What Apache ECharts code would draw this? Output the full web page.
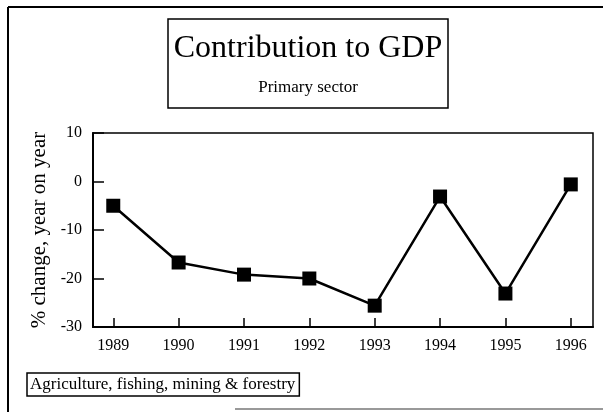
<!DOCTYPE html>
<html>
<head>
<meta charset="utf-8">
<script src="https://cdn.jsdelivr.net/npm/echarts@6/dist/echarts.min.js"></script>
<style>
html,body{margin:0;padding:0;background:#fff;}
#chart{width:603px;height:412px;}
</style>
</head>
<body>
<div id="chart"></div>
<script>
var years = [1989, 1990, 1991, 1992, 1993, 1994, 1995, 1996];
var primarySector = [-5.0, -16.7, -19.2, -20.0, -25.6, -3.1, -23.1, -0.6];
var yTicks = [10, 0, -10, -20, -30];
var seriesName = 'Agriculture, fishing, mining & forestry';

var chart = echarts.init(document.getElementById('chart'), null, {renderer: 'canvas'});
var serif = '"Liberation Serif", "DejaVu Serif", serif';
var option = {
  backgroundColor: '#fff',
  animation: false,
  title: {
    text: 'Contribution to GDP',
    subtext: 'Primary sector',
    left: 302,
    top: 19,
    textAlign: 'center',
    borderColor: '#000',
    borderWidth: 1.5,
    padding: [14, 6, 12, 6],
    itemGap: 14,
    textStyle: {fontFamily: serif, fontSize: 32, fontWeight: 'normal', color: '#000'},
    subtextStyle: {fontFamily: serif, fontSize: 17, color: '#000'}
  },
  legend: {
    left: 27,
    top: 373,
    data: [{name: seriesName, icon: 'rect', itemStyle: {opacity: 0}}],
    itemWidth: 0,
    itemHeight: 0,
    borderColor: '#000',
    borderWidth: 1.5,
    padding: [3, 4, 3, -2],
    textStyle: {fontFamily: serif, fontSize: 17, color: '#000'}
  },
  grid: {
    left: 93, right: 10, top: 133, bottom: 85,
    show: true, borderColor: '#000', borderWidth: 1.5, backgroundColor: 'transparent'
  },
  xAxis: {
    type: 'value',
    position: 'bottom',
    min: 1988.69,
    max: 1996.34,
    splitLine: {show: false},
    axisLine: {show: true, onZero: false, lineStyle: {color: '#000', width: 2}},
    axisTick: {show: true, inside: true, length: 9, lineStyle: {color: '#000', width: 1.5}, customValues: years},
    axisLabel: {color: '#000', fontFamily: serif, fontSize: 16, margin: 11, customValues: years,
      formatter: function (v) { return String(v); }}
  },
  yAxis: {
    type: 'value',
    position: 'left',
    min: -30, max: 10, interval: 10,
    name: '% change, year on year',
    nameLocation: 'middle',
    nameGap: 43,
    nameRotate: 90,
    nameTextStyle: {fontFamily: serif, fontSize: 21, color: '#000'},
    splitLine: {show: false},
    axisLine: {show: true, onZero: false, lineStyle: {color: '#000', width: 2}},
    axisTick: {show: true, inside: true, length: 11, lineStyle: {color: '#000', width: 1.5}},
    axisLabel: {color: '#000', fontFamily: serif, fontSize: 16, margin: 11}
  },
  series: [{
    name: seriesName,
    type: 'line',
    data: years.map(function (y, i) { return [y, primarySector[i]]; }),
    symbol: 'rect',
    symbolSize: 14,
    itemStyle: {color: '#000'},
    lineStyle: {color: '#000', width: 2.5}
  }],
  graphic: [
    {type: 'line', shape: {x1: 8, y1: 7, x2: 603, y2: 7}, style: {stroke: '#000', lineWidth: 2}},
    {type: 'line', shape: {x1: 8, y1: 7, x2: 8, y2: 412}, style: {stroke: '#000', lineWidth: 2}},
    {type: 'line', shape: {x1: 235, y1: 409, x2: 603, y2: 409}, style: {stroke: '#999', lineWidth: 2}}
  ]
};
chart.setOption(option);
</script>
</body>
</html>
